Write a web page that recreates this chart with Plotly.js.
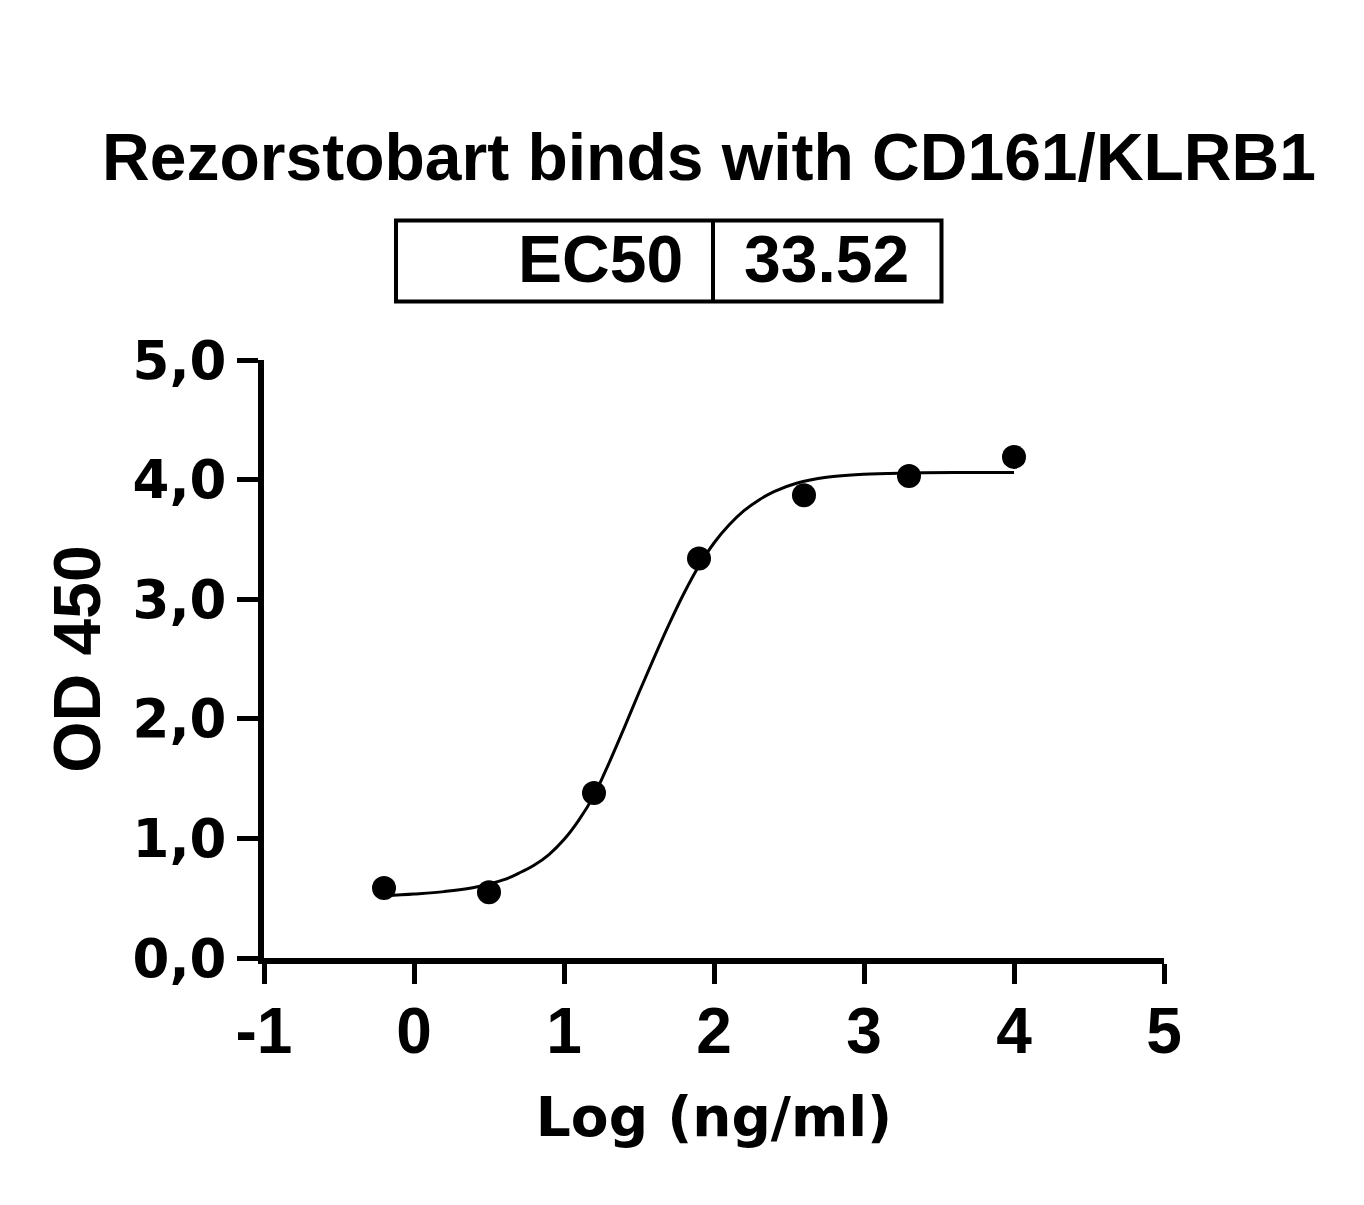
<!DOCTYPE html>
<html><head><meta charset="utf-8">
<script src="https://cdn.plot.ly/plotly-3.0.1.min.js"></script>
<style>html,body{margin:0;padding:0;background:#fff}</style>
</head><body><div id="chart" style="width:1364px;height:1205px"></div>
<script>
// measured points: log10 concentration (ng/ml) vs OD450
const logConc = [-0.2, 0.5, 1.2, 1.9, 2.6, 3.3, 4.0];
const od450 = [0.585, 0.55, 1.38, 3.34, 3.87, 4.03, 4.19];
// fitted curve
const fitX = [-0.2, 0, 0.2, 0.4, 0.6, 0.7, 0.8, 0.9, 1.0, 1.1, 1.2, 1.3, 1.4, 1.5, 1.6, 1.7, 1.8, 1.9, 2.0, 2.1, 2.2, 2.3, 2.4, 2.55, 2.75, 3.0, 3.3, 3.6, 4.0];
const fitY = [0.52, 0.535, 0.555, 0.59, 0.655, 0.71, 0.775, 0.865, 0.99, 1.155, 1.36, 1.63, 1.92, 2.22, 2.51, 2.79, 3.05, 3.28, 3.47, 3.62, 3.74, 3.83, 3.90, 3.97, 4.02, 4.045, 4.055, 4.06, 4.06];
const xTicks = [-1, 0, 1, 2, 3, 4, 5];
const yTicks = [0, 1, 2, 3, 4, 5];
const chartTitle = 'Rezorstobart binds with CD161/KLRB1';
const ec50Label = 'EC50';
const ec50Value = '33.52';
const xTitle = 'Log (ng/ml)';
const yTitle = 'OD 450';

const ARIAL = 'Liberation Sans, Arial, sans-serif';
const WIDE = 'DejaVu Sans, Liberation Sans, Arial, sans-serif';
const bold = (family, size) => ({family: family, size: size, color: '#000', weight: 'bold'});

const traces = [
  {x: fitX, y: fitY, mode: 'lines', type: 'scatter', line: {color: '#000', width: 3, shape: 'spline', smoothing: 1}, hoverinfo: 'skip', showlegend: false},
  {x: logConc, y: od450, mode: 'markers', type: 'scatter', marker: {color: '#000', size: 24}, showlegend: false}
];

const PL = 264, PR = 1164, PT = 360, PB = 958;
const px = v => (v - PL) / (PR - PL);
const py = v => (PB - v) / (PB - PT);

const layout = {
  width: 1364, height: 1205,
  margin: {l: PL, r: 1364 - PR, t: PT, b: 1205 - PB},
  paper_bgcolor: '#fff', plot_bgcolor: '#fff',
  separators: ',.',
  title: {text: chartTitle, font: bold(ARIAL, 66), xref: 'container', yref: 'container', x: 709 / 1364, y: 1 - 157 / 1205, xanchor: 'center', yanchor: 'middle'},
  xaxis: {
    range: [-1, 5], tickvals: xTicks, ticktext: xTicks.map(String),
    showgrid: false, zeroline: false, showline: true, linecolor: '#000', linewidth: 6,
    ticks: 'outside', ticklen: 20, tickwidth: 5, tickcolor: '#000',
    tickfont: bold(ARIAL, 64), ticklabelstandoff: -8,
    title: {text: xTitle, font: bold(WIDE, 55), standoff: 34}
  },
  yaxis: {
    range: [0, 5], tickvals: yTicks, tickformat: '.1f',
    showgrid: false, zeroline: false, showline: true, linecolor: '#000', linewidth: 6,
    ticks: 'outside', ticklen: 21, tickwidth: 5, tickcolor: '#000',
    tickfont: bold(WIDE, 53),
    title: {text: yTitle, font: bold(ARIAL, 66), standoff: 12}
  },
  shapes: [
    {type: 'rect', xref: 'paper', yref: 'paper', x0: px(396), x1: px(941.5), y0: py(301.5), y1: py(220.5), line: {color: '#000', width: 4}, fillcolor: 'rgba(0,0,0,0)'},
    {type: 'line', xref: 'paper', yref: 'paper', x0: px(713), x1: px(713), y0: py(301.5), y1: py(220.5), line: {color: '#000', width: 4}}
  ],
  annotations: [
    {text: ec50Label, xref: 'paper', yref: 'paper', x: px(685), y: py(259), xanchor: 'right', yanchor: 'middle', showarrow: false, font: bold(ARIAL, 66)},
    {text: ec50Value, xref: 'paper', yref: 'paper', x: px(826), y: py(259), xanchor: 'center', yanchor: 'middle', showarrow: false, font: bold(ARIAL, 66)}
  ]
};

Plotly.newPlot('chart', traces, layout, {displayModeBar: false, staticPlot: true});
</script>
</body></html>
